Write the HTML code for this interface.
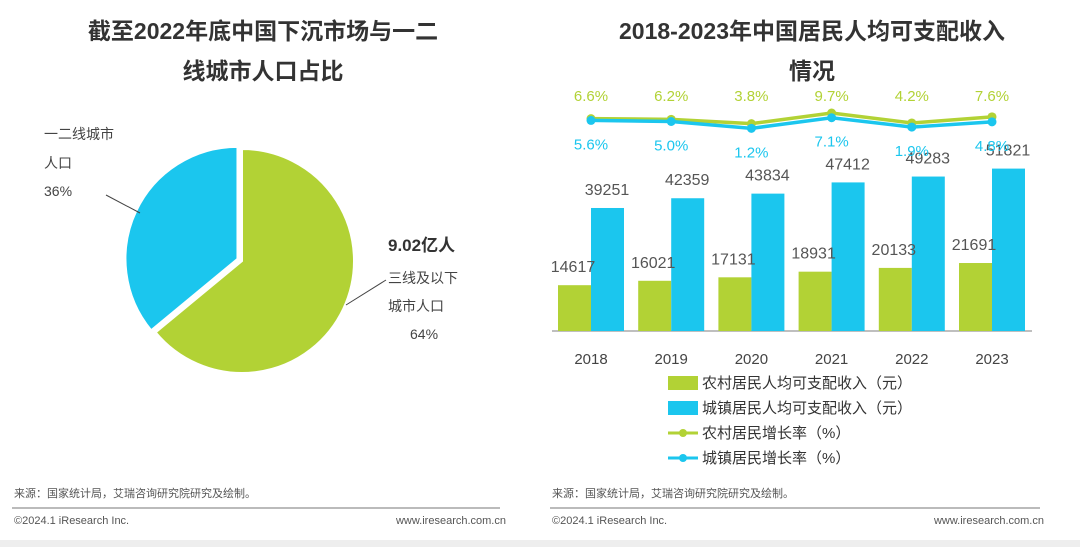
<!DOCTYPE html>
<html><head><meta charset="utf-8"><style>
body{margin:0;width:1080px;height:547px;background:#fff;font-family:"Liberation Sans","Noto Sans CJK SC",sans-serif;overflow:hidden;position:relative}
</style></head><body>
<svg width="1080" height="547" style="position:absolute;left:0;top:0" font-family="Liberation Sans, Noto Sans CJK SC, sans-serif">
<rect x="0" y="540" width="1080" height="7" fill="#eeeeee"/>
<text x="263" y="39" font-size="23" font-weight="bold" fill="#333" text-anchor="middle">截至2022年底中国下沉市场与一二</text>
<text x="263" y="79" font-size="23" font-weight="bold" fill="#333" text-anchor="middle">线城市人口占比</text>
<text x="812" y="39" font-size="23" font-weight="bold" fill="#333" text-anchor="middle">2018-2023年中国居民人均可支配收入</text>
<text x="812" y="79" font-size="23" font-weight="bold" fill="#333" text-anchor="middle">情况</text>
<g id="pie"></g>
<text x="44" y="139" font-size="14" fill="#444">一二线城市</text>
<text x="44" y="168" font-size="14" fill="#444">人口</text>
<text x="44" y="196" font-size="14" fill="#444">36%</text>
<line x1="106" y1="195" x2="140" y2="213" stroke="#444" stroke-width="1"/>
<text x="388" y="251" font-size="17" font-weight="bold" fill="#333">9.02亿人</text>
<text x="388" y="283" font-size="14" fill="#444">三线及以下</text>
<text x="388" y="311" font-size="14" fill="#444">城市人口</text>
<text x="410" y="339" font-size="14" fill="#444">64%</text>
<line x1="346" y1="305" x2="386" y2="280" stroke="#444" stroke-width="1"/>
<g id="bars"></g>
<g font-size="15" fill="#333">
<rect x="668" y="376" width="30" height="14" fill="#b2d235"/>
<text x="702" y="388">农村居民人均可支配收入（元）</text>
<rect x="668" y="401" width="30" height="14" fill="#1bc6ee"/>
<text x="702" y="413">城镇居民人均可支配收入（元）</text>
<line x1="668" y1="433" x2="698" y2="433" stroke="#b2d235" stroke-width="3"/><circle cx="683" cy="433" r="4" fill="#b2d235"/>
<text x="702" y="438">农村居民增长率（%）</text>
<line x1="668" y1="458" x2="698" y2="458" stroke="#1bc6ee" stroke-width="3"/><circle cx="683" cy="458" r="4" fill="#1bc6ee"/>
<text x="702" y="463">城镇居民增长率（%）</text>
</g>
<g font-size="11" fill="#555">
<text x="14" y="497">来源：国家统计局，艾瑞咨询研究院研究及绘制。</text>
<line x1="12" y1="508" x2="500" y2="508" stroke="#bbb" stroke-width="2"/>
<text x="14" y="524">©2024.1 iResearch Inc.</text>
<text x="506" y="524" text-anchor="end">www.iresearch.com.cn</text>
<text x="552" y="497">来源：国家统计局，艾瑞咨询研究院研究及绘制。</text>
<line x1="550" y1="508" x2="1040" y2="508" stroke="#bbb" stroke-width="2"/>
<text x="552" y="524">©2024.1 iResearch Inc.</text>
<text x="1044" y="524" text-anchor="end">www.iresearch.com.cn</text>
</g>
</svg>
<script>
const pieLabels=['三线及以下城市人口','一二线城市人口'];
const pieValues=[64,36];
const pieColors=['#b2d235','#1bc6ee'];
const years=['2018','2019','2020','2021','2022','2023'];
const rural=[14617,16021,17131,18931,20133,21691];
const urban=[39251,42359,43834,47412,49283,51821];
const ruralRate=[6.6,6.2,3.8,9.7,4.2,7.6];
const urbanRate=[5.6,5.0,1.2,7.1,1.9,4.8];
const NS='http://www.w3.org/2000/svg';
function mk(tag,attrs,parent,txt){const e=document.createElementNS(NS,tag);for(const k in attrs)e.setAttribute(k,attrs[k]);if(txt!==undefined)e.textContent=txt;parent.appendChild(e);return e;}
const pie=document.getElementById('pie');
const cx=242,cy=261,R=112;const tot=pieValues.reduce((a,b)=>a+b,0);let a0=0;
pieValues.forEach((v,i)=>{const a1=a0+v/tot*2*Math.PI;const mid=(a0+a1)/2;const off=i===1?5:0;
 const ox=cx+off*Math.sin(mid),oy=cy-off*Math.cos(mid);
 const x0=ox+R*Math.sin(a0),y0=oy-R*Math.cos(a0),x1=ox+R*Math.sin(a1),y1=oy-R*Math.cos(a1);
 const p=mk('path',{d:`M${ox},${oy}L${x0},${y0}A${R},${R} 0 ${a1-a0>Math.PI?1:0} 1 ${x1},${y1}Z`,fill:pieColors[i],stroke:'#fff','stroke-width':2},pie);
 
 
 a0=a1;});
const g=document.getElementById('bars');
const base=331,x0c=591,step=80.2,bw=33;
const yv=v=>base-v*0.003134;
const yr=v=>130.5-1.8*v;
const xc=i=>x0c+i*step;
const ax=mk('line',{x1:552,y1:base,x2:1032,y2:base,stroke:'#aaa','stroke-width':1.5},g);

years.forEach((y,i)=>{
 const r=mk('rect',{x:xc(i)-bw,y:yv(rural[i]),width:bw,height:base-yv(rural[i]),fill:'#b2d235'},g);
 
 const u=mk('rect',{x:xc(i),y:yv(urban[i]),width:bw,height:base-yv(urban[i]),fill:'#1bc6ee'},g);
 
 const t1=mk('text',{x:xc(i)-18,y:yv(rural[i])-13,'font-size':16,fill:'#555','text-anchor':'middle'},g,rural[i]);
 
 const t2=mk('text',{x:xc(i)+16,y:yv(urban[i])-13,'font-size':16,fill:'#555','text-anchor':'middle'},g,urban[i]);
 
 const t3=mk('text',{x:xc(i),y:364,'font-size':15,fill:'#444','text-anchor':'middle'},g,y);
 
});
[[ruralRate,'#b2d235','rural'],[urbanRate,'#1bc6ee','urban']].forEach(([arr,col,nm])=>{
 const l=mk('polyline',{points:arr.map((v,i)=>xc(i)+','+yr(v)).join(' '),fill:'none',stroke:col,'stroke-width':3.5},g);
 
 arr.forEach((v,i)=>{
  const c=mk('circle',{cx:xc(i),cy:yr(v),r:4.5,fill:col},g);
  
  const t=mk('text',{x:xc(i),y:(nm==='rural'?101:yr(v)+29),'font-size':15,fill:col,'text-anchor':'middle'},g,v.toFixed(1)+'%');
  
 });
});
</script>
</body></html>
